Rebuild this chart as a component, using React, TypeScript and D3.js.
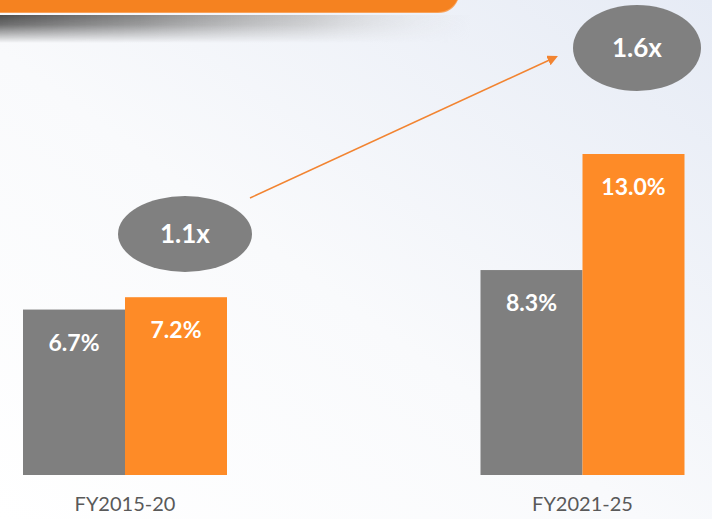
import React from "react";
import * as d3 from "d3";

const categories = ["FY2015-20", "FY2021-25"];
const seriesNames = ["A", "B"];
const seriesA = [6.7, 8.3];
const seriesB = [7.2, 13.0];
const multiples = ["1.1x", "1.6x"];

const W = 712;
const H = 519;
const GRAY = "#7f7f7f";
const ORANGE = "#fe8b27";
const FONT = "Lato, 'Open Sans', sans-serif";

export default function App() {
  const x = d3.scalePoint<string>().domain(categories).range([125, 582.5]);
  const inner = d3.scaleBand<string>().domain(seriesNames).range([-102, 102]).padding(0);
  const y = d3.scaleLinear().domain([0, 13]).range([475, 154]);

  const bars = categories.flatMap((c, i) => [
    { c, s: "A", v: seriesA[i], color: GRAY },
    { c, s: "B", v: seriesB[i], color: ORANGE },
  ]);

  const bubbles = [
    { cx: 185, cy: 234, rx: 67, ry: 38, label: multiples[0] },
    { cx: 637, cy: 48, rx: 64, ry: 43, label: multiples[1] },
  ];

  return (
    <svg
      width={W}
      height={H}
      style={{ position: "absolute", left: 0, top: 0, display: "block" }}
    >
      <defs>
        <linearGradient id="bg" x1="0" y1="1" x2="1" y2="0">
          <stop offset="0" stopColor="#ffffff" />
          <stop offset="0.45" stopColor="#f9fafc" />
          <stop offset="1" stopColor="#e6ebf5" />
        </linearGradient>
        <linearGradient id="shadowH" x1="0" y1="0" x2="1" y2="0">
          <stop offset="0" stopColor="#4e4e4e" stopOpacity="1" />
          <stop offset="0.3" stopColor="#7a7a7a" stopOpacity="0.9" />
          <stop offset="0.65" stopColor="#b0b0b0" stopOpacity="0.65" />
          <stop offset="1" stopColor="#e0e0e0" stopOpacity="0" />
        </linearGradient>
        <linearGradient id="fadeV" x1="0" y1="0" x2="0" y2="1">
          <stop offset="0" stopColor="#ffffff" />
          <stop offset="0.35" stopColor="#d0d0d0" />
          <stop offset="0.7" stopColor="#606060" />
          <stop offset="1" stopColor="#000000" />
        </linearGradient>
        <mask id="shadowMask">
          <rect x={0} y={15} width={470} height={28} fill="url(#fadeV)" />
        </mask>
        <marker
          id="arrow"
          viewBox="0 0 10 10"
          refX="8"
          refY="5"
          markerWidth="7"
          markerHeight="7"
          orient="auto"
        >
          <path d="M0,0 L10,5 L0,10 z" fill="#f28431" />
        </marker>
      </defs>

      <rect x={0} y={0} width={W} height={H} fill="url(#bg)" />

      {/* header band */}
      <rect x={0} y={15} width={470} height={28} fill="url(#shadowH)" mask="url(#shadowMask)" />
      <path d="M0,0 H458 Q452,13 438,13 H0 Z" fill="#f8a25a" />
      <path d="M0,0 H457 Q451,12 437,12 H0 Z" fill="#f58220" />

      {/* bars */}
      {bars.map((b, i) => {
        const bx = (x(b.c) as number) + (inner(b.s) as number);
        const top = y(b.v);
        return (
          <g key={i}>
            <rect
              x={bx}
              y={top}
              width={inner.bandwidth()}
              height={y(0) - top}
              fill={b.color}
            />
            <text
              x={bx + inner.bandwidth() / 2}
              y={top + 41}
              textAnchor="middle"
              fill="#ffffff"
              fontFamily={FONT}
              fontWeight="bold"
              fontSize={23}
            >
              {b.v.toFixed(1) + "%"}
            </text>
          </g>
        );
      })}

      {/* category labels */}
      {categories.map((c) => (
        <text
          key={c}
          x={x(c) as number}
          y={511}
          textAnchor="middle"
          fill="#595959"
          fontFamily={FONT}
          fontSize={20}
        >
          {c}
        </text>
      ))}

      {/* arrow */}
      <line
        x1={250}
        y1={198}
        x2={556}
        y2={57}
        stroke="#f28431"
        strokeWidth={1.5}
        markerEnd="url(#arrow)"
      />

      {/* bubbles */}
      {bubbles.map((b) => (
        <g key={b.label}>
          <ellipse cx={b.cx} cy={b.cy} rx={b.rx} ry={b.ry} fill="#808080" />
          <text
            x={b.cx}
            y={b.cy + 9}
            textAnchor="middle"
            fill="#ffffff"
            fontFamily={FONT}
            fontWeight="bold"
            fontSize={26}
          >
            {b.label}
          </text>
        </g>
      ))}
    </svg>
  );
}
